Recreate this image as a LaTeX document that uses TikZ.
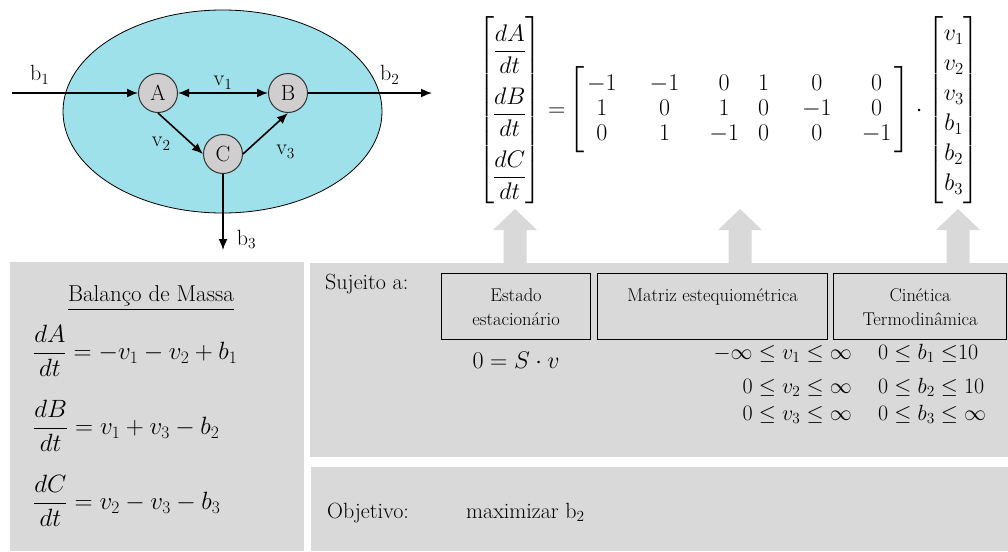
\RequirePackage{fix-cm}
\documentclass[tikz,border=0pt]{standalone}
\usepackage{amsmath,amssymb}
\usepackage{fontspec}
\usepackage{xcolor}
\usepackage{tikz}
\usetikzlibrary{arrows.meta, positioning}

\definecolor{cellcyan}{RGB}{158,225,235}
\definecolor{metgray}{RGB}{208,206,206}
\definecolor{panelgray}{RGB}{217,217,217}

\newcommand{\ratefrac}[2]{\dfrac{\rule{0pt}{23pt}#1}{#2\rule[-2pt]{0pt}{2pt}}}

\begin{document}
\begin{tikzpicture}[x=1pt, y=-1pt,
  met/.style={circle, draw=black!80, fill=metgray, line width=1pt, minimum size=39pt, inner sep=0pt, font=\fontsize{22}{26}\selectfont},
  flux/.style={-{Latex[length=11pt,width=9pt]}, line width=1.6pt},
  lbl/.style={inner sep=0pt, font=\fontsize{22}{26}\selectfont},
  conbox/.style={draw=black, line width=1.2pt, minimum height=66pt, inner sep=0pt, anchor=north west},
  boxtext/.style={inner sep=0pt, align=center, font=\fontsize{18.5}{24}\selectfont},
  bigtext/.style={inner sep=0pt, font=\fontsize{22}{26}\selectfont},
  eqn/.style={inner sep=0pt, font=\fontsize{24}{29}\selectfont},
  baleq/.style={inner sep=0pt, anchor=west, font=\fontsize{25}{30}\selectfont},
  bound/.style={inner sep=0pt, font=\fontsize{22}{26}\selectfont}]
  \useasboundingbox (0,0) rectangle (1008,551);

  % cell with metabolites A, B, C
  \draw[fill=cellcyan, line width=0.8pt] (222.5,111.5) ellipse [x radius=159.5pt, y radius=101.5pt];
  \node[met] (A) at (158,93) {A};
  \node[met] (B) at (288,93) {B};
  \node[met] (C) at (223,154) {C};
  \coordinate (in1) at (12,93);
  \coordinate (out2) at (432,93);
  \coordinate (out3) at (223,250);

  \draw[flux] (in1) -- (A) node[lbl, pos=.22, above=8pt] {b$_1$};
  \draw[flux, {Latex[length=11pt,width=9pt]}-{Latex[length=11pt,width=9pt]}] (A) -- (B) node[lbl, pos=.5, above=3pt] {v$_1$};
  \draw[flux] (B) -- (out2) node[lbl, pos=.66, above=8pt] {b$_2$};
  \draw[flux] (A.south) -- (C.west) node[lbl, pos=.5, below left=3pt and 9pt] {v$_2$};
  \draw[flux] (C.east) -- (B.south) node[lbl, pos=.5, below right=11pt and 10pt] {v$_3$};
  \draw[flux] (C) -- (out3) node[lbl, pos=.86, right=13pt] {b$_3$};

  % panels and block arrows
  \fill[panelgray] (10,262) rectangle (304,551);
  \fill[panelgray] (310,263) rectangle (1008,457);
  \fill[panelgray] (311,467) rectangle (1008,551);
  \foreach \x in {515,740,958}
    \fill[panelgray] (\x-11.5,264) -- (\x-11.5,230) -- (\x-22,230) -- (\x,209)
      -- (\x+22,230) -- (\x+11.5,230) -- (\x+11.5,264) -- cycle;

  % stoichiometric system
  \node[eqn] (stoeq) at (729,110) {$\nulldelimiterspace=0pt
    {\arraycolsep=0pt\begin{bmatrix}\ratefrac{dA}{dt}\\[15pt]\ratefrac{dB}{dt}\\[15pt]\ratefrac{dC}{dt}\end{bmatrix}}
    = \hspace{-4pt}\left[\begin{array}{@{\hspace{3pt}}c@{\hspace{33pt}}c@{\hspace{30pt}}c@{\hspace{19pt}}c@{\hspace{33pt}}c@{\hspace{30pt}}c@{\hspace{3pt}}}
      -1&-1&0&1&0&0\\[-4pt]1&0&1&0&-1&0\\[-4pt]0&1&-1&0&0&-1\end{array}\right]
    \cdot {\arraycolsep=8pt\begin{bmatrix}v_1\\[1pt]v_2\\[1pt]v_3\\[1pt]b_1\\[1pt]b_2\\[1pt]b_3\end{bmatrix}}$};

  % mass balance
  \node[inner sep=0pt, font=\fontsize{23}{27}\selectfont, anchor=mid] (title) at (151,299.5) {\underline{Balanço de Massa}};
  \node[baleq] (balA) at (33,351) {$\dfrac{dA}{dt}=-v_1-v_2+b_1$};
  \node[baleq] (balB) at (33,426) {$\dfrac{dB}{dt}=v_1+v_3-b_2$};
  \node[baleq] (balC) at (33,501) {$\dfrac{dC}{dt}=v_2-v_3-b_3$};

  % constraints
  \node[bigtext, anchor=mid west] (subj) at (325,287.5) {Sujeito a:};
  \node[conbox, minimum width=149pt] (stat) at (441,273) {};
  \node[conbox, minimum width=230pt] (stoich) at (597,273) {};
  \node[conbox, minimum width=173pt] (kin) at (833,273) {};
  \node[boxtext, below=15pt of stat.north] {Estado\\estacionário};
  \node[boxtext, below=15pt of stoich.north] {Matriz estequiométrica};
  \node[boxtext, below=15pt of kin.north] {Cinética\\Termodinâmica};
  \node[eqn, below=12pt of stat] (ss) {$0=S\cdot v$};

  \node[bound, anchor=mid east] (v1b) at (852,357) {$-\infty\le v_1\le\infty$};
  \node[bound, anchor=mid east] (v2b) at (852,391) {$0\le v_2\le\infty$};
  \node[bound, anchor=mid east] (v3b) at (852,418) {$0\le v_3\le\infty$};
  \node[bound, anchor=mid west] (b1b) at (878,357) {$0\le b_1\;{\le}10$};
  \node[bound, anchor=mid west] (b2b) at (878,391) {$0\le b_2\le 10$};
  \node[bound, anchor=mid west] (b3b) at (878,418) {$0\le b_3\le\infty$};

  % objective
  \node[bigtext, anchor=mid west] (obj) at (327,516) {Objetivo:};
  \node[bigtext, anchor=mid west] (goal) at (466,516) {maximizar b$_2$};
\end{tikzpicture}
\end{document}
